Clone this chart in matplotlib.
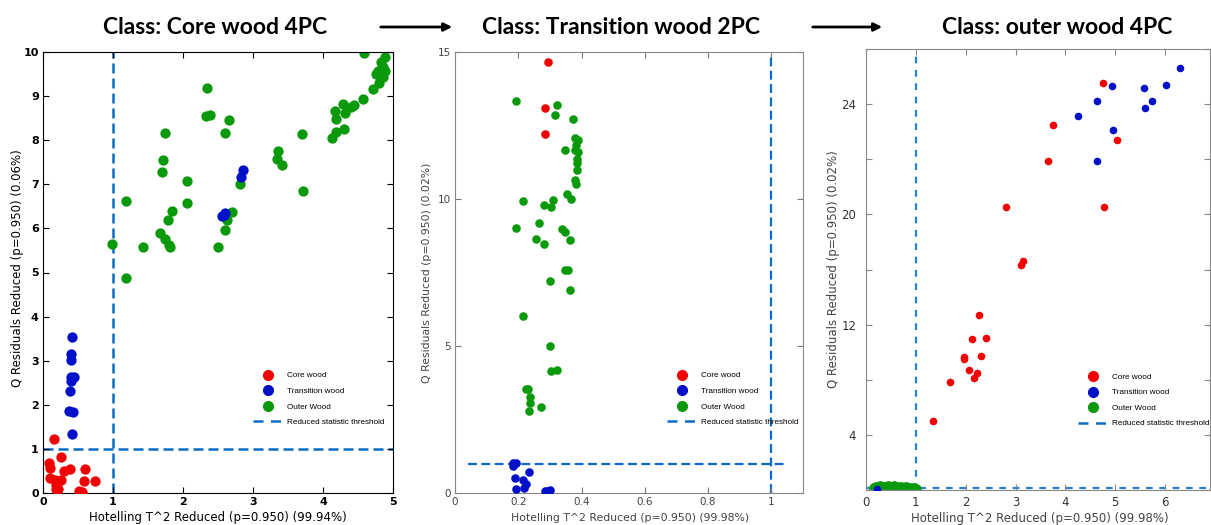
import matplotlib.pyplot as plt
from matplotlib.lines import Line2D
from matplotlib.patches import FancyArrowPatch

# colours
RED = '#f00000'
BLUE = '#0010c8'
GREEN = '#0a990a'
THR = '#0b6cc4'

# ---- panel 1 : Core wood 4PC ----
core1_x = [0.15, 0.25, 0.09, 0.10, 0.30, 0.39, 0.60, 0.10, 0.17, 0.26, 0.19, 0.21, 0.18, 0.59, 0.74, 0.52, 0.55]
core1_y = [1.22, 0.81, 0.68, 0.57, 0.51, 0.54, 0.55, 0.34, 0.30, 0.30, 0.19, 0.09, 0.08, 0.28, 0.28, 0.05, 0.02]
trans1_x = [0.42, 0.40, 0.40, 0.40, 0.44, 0.40, 0.39, 0.37, 0.43, 0.41, 2.85, 2.83, 2.56, 2.60, 2.58]
trans1_y = [3.54, 3.15, 3.02, 2.62, 2.62, 2.53, 2.32, 1.86, 1.83, 1.33, 7.32, 7.17, 6.28, 6.34, 6.30]
outer1_x = [4.58, 4.88, 4.83, 4.86, 4.79, 4.88, 4.76, 4.86, 4.80, 4.72, 4.57, 4.44, 4.29, 4.31, 4.17,
            4.18, 4.19, 4.13, 4.30, 4.40, 3.70, 3.71, 3.36, 3.34, 3.42, 2.34, 2.33, 2.39, 2.66, 2.60,
            2.81, 2.70, 2.63, 2.60, 2.50, 1.74, 1.72, 1.70, 2.05, 2.05, 1.84, 1.79, 1.67, 1.74, 1.81,
            1.80, 1.43, 1.19, 0.98, 1.18]
outer1_y = [9.98, 9.89, 9.77, 9.66, 9.58, 9.58, 9.49, 9.43, 9.30, 9.15, 8.94, 8.79, 8.82, 8.62, 8.66,
            8.47, 8.19, 8.06, 8.26, 8.75, 8.15, 6.85, 7.75, 7.58, 7.43, 9.19, 8.54, 8.58, 8.45, 8.17,
            7.00, 6.38, 6.19, 5.96, 5.57, 8.17, 7.55, 7.27, 7.08, 6.57, 6.39, 6.20, 5.90, 5.75, 5.57,
            5.62, 5.57, 6.63, 5.65, 4.88]

# ---- panel 2 : Transition wood 2PC ----
core2_x = [0.294, 0.283, 0.285]
core2_y = [14.66, 13.09, 12.20]
trans2_x = [0.182, 0.192, 0.184, 0.234, 0.190, 0.215, 0.224, 0.192, 0.217, 0.284, 0.299, 0.291]
trans2_y = [1.02, 1.02, 0.93, 0.71, 0.51, 0.43, 0.32, 0.15, 0.17, 0.08, 0.11, 0.06]
outer2_x = [0.194, 0.321, 0.317, 0.372, 0.380, 0.389, 0.383, 0.380, 0.389, 0.347, 0.386, 0.387,
            0.386, 0.380, 0.383, 0.354, 0.368, 0.310, 0.215, 0.280, 0.304, 0.266, 0.194, 0.339,
            0.349, 0.257, 0.280, 0.362, 0.347, 0.357, 0.299, 0.362, 0.215, 0.299, 0.305, 0.322,
            0.226, 0.231, 0.236, 0.236, 0.234, 0.273]
outer2_y = [13.35, 13.19, 12.85, 12.72, 12.07, 12.01, 11.84, 11.65, 11.61, 11.67, 11.35, 11.22,
            10.97, 10.65, 10.50, 10.16, 9.99, 9.97, 9.94, 9.80, 9.74, 9.19, 9.02, 8.97,
            8.89, 8.63, 8.47, 8.59, 7.58, 7.60, 7.22, 6.90, 6.03, 5.00, 4.16, 4.19,
            3.53, 3.54, 3.25, 3.05, 2.79, 2.91]

# ---- panel 3 : outer wood 4PC ----
core3_x = [4.76, 3.75, 3.65, 5.04, 2.80, 4.77, 3.15, 3.10, 2.27, 2.13, 2.41, 1.97, 1.96, 2.31,
           2.07, 2.23, 2.16, 1.69, 1.34]
core3_y = [29.5, 26.5, 23.85, 25.4, 20.5, 20.5, 16.6, 16.35, 12.73, 10.96, 11.03, 9.62, 9.50, 9.70,
           8.73, 8.49, 8.12, 7.83, 5.02]
trans3_x = [6.29, 4.94, 6.01, 5.57, 4.64, 5.74, 5.59, 4.25, 4.96, 4.64, 0.22]
trans3_y = [30.6, 29.3, 29.4, 29.2, 28.2, 28.2, 27.7, 27.15, 26.1, 23.85, 0.10]
outer3_x = [0.16, 0.20, 0.25, 0.28, 0.31, 0.35, 0.38, 0.42, 0.45, 0.49, 0.52, 0.56, 0.60, 0.63,
            0.67, 0.70, 0.74, 0.78, 0.81, 0.85, 0.89, 0.93, 0.97, 1.00, 0.33, 0.47, 0.58, 0.72]
outer3_y = [0.12, 0.25, 0.08, 0.30, 0.15, 0.05, 0.22, 0.10, 0.28, 0.14, 0.05, 0.26, 0.12, 0.20,
            0.06, 0.24, 0.14, 0.08, 0.22, 0.12, 0.18, 0.10, 0.16, 0.08, 0.02, 0.00, 0.03, 0.00]
y3_ticks = [0, 4, 8, 12, 16, 20, 24, 28, 32]
y3_labels = ['', '4', '', '12', '', '20', '', '24', '']

legend_labels = ['Core wood', 'Transition wood', 'Outer Wood', 'Reduced statistic threshold']

fig = plt.figure(figsize=(12.11, 5.25), dpi=100)
W, H = 1211, 525

ax1 = fig.add_axes([43 / W, 32 / H, 350 / W, 441 / H])
ax2 = fig.add_axes([455 / W, 32 / H, 348 / W, 441 / H])
ax3 = fig.add_axes([866 / W, 35 / H, 344 / W, 441 / H])

DASH = (0, (4, 2))


def legend(ax, x, y):
    handles = [Line2D([], [], ls='', marker='o', ms=7, color=RED),
               Line2D([], [], ls='', marker='o', ms=7, color=BLUE),
               Line2D([], [], ls='', marker='o', ms=7, color=GREEN),
               Line2D([], [], ls=(0, (4, 3)), lw=1.8, color=THR)]
    ax.legend(handles, legend_labels, loc='upper left', bbox_to_anchor=(x, y), frameon=False,
              borderpad=0, borderaxespad=0, handlelength=3.6, handletextpad=0.5, labelspacing=0.95,
              prop={'family': 'Liberation Sans', 'size': 5.9})


# panel 1
ax1.scatter(core1_x, core1_y, s=55, color=RED, zorder=3, lw=0)
ax1.scatter(trans1_x, trans1_y, s=55, color=BLUE, zorder=3, lw=0)
ax1.scatter(outer1_x, outer1_y, s=55, color=GREEN, zorder=2, lw=0)
ax1.axhline(1, color=THR, lw=1.8, ls=DASH, zorder=1)
ax1.axvline(1, color=THR, lw=1.8, ls=DASH, zorder=1)
ax1.set_xlim(0, 5)
ax1.set_ylim(0, 10)
ax1.set_xticks(range(6))
ax1.set_yticks(range(11))
ax1.tick_params(direction='in', top=True, right=True, length=4, pad=3, labelsize=8)
for lab in ax1.get_xticklabels() + ax1.get_yticklabels():
    lab.set_fontweight('bold')
ax1.set_xlabel('Hotelling T^2 Reduced (p=0.950) (99.94%)', fontsize=8.5)
ax1.set_ylabel('Q Residuals Reduced (p=0.950) (0.06%)', fontsize=8.5)
ax1.xaxis.set_label_coords(0.5, -0.04)
ax1.yaxis.set_label_coords(-0.055, 0.51)
legend(ax1, 0.60, 0.275)

# panel 2
ax2.scatter(core2_x, core2_y, s=38, color=RED, zorder=3, lw=0)
ax2.scatter(trans2_x, trans2_y, s=38, color=BLUE, zorder=3, lw=0)
ax2.scatter(outer2_x, outer2_y, s=38, color=GREEN, zorder=2, lw=0)
ax2.plot([0.04, 1.05], [1, 1], color=THR, lw=1.6, ls=DASH, zorder=1)
ax2.axvline(1, color=THR, lw=1.6, ls=DASH, zorder=1)
ax2.set_xlim(0, 1.1)
ax2.set_ylim(0, 15)
ax2.set_xticks([0, 0.2, 0.4, 0.6, 0.8, 1])
ax2.set_xticklabels(['0', '0.2', '0.4', '0.6', '0.8', '1'])
ax2.set_yticks([0, 5, 10, 15])
ax2.tick_params(direction='in', top=True, right=True, length=4, pad=3, labelsize=7.5,
                labelcolor='#444444', color='#777777')
ax2.set_xlabel('Hotelling T^2 Reduced (p=0.950) (99.98%)', fontsize=7.8, color='#444444')
ax2.set_ylabel('Q Residuals Reduced (p=0.950) (0.02%)', fontsize=7.8, color='#444444')
ax2.xaxis.set_label_coords(0.503, -0.045)
ax2.yaxis.set_label_coords(-0.065, 0.5)
legend(ax2, 0.61, 0.275)

# panel 3
ax3.scatter(core3_x, core3_y, s=30, color=RED, zorder=3, lw=0)
ax3.scatter(trans3_x, trans3_y, s=30, color=BLUE, zorder=3, lw=0)
ax3.scatter(outer3_x, outer3_y, s=60, color=GREEN, zorder=2, lw=0)
ax3.axhline(0.12, color='#2a80d0', lw=1.6, ls=(0, (3, 3)), zorder=1)
ax3.axvline(1, color='#2a80d0', lw=1.6, ls=(0, (3, 3)), zorder=1)
ax3.set_xlim(0, 6.9)
ax3.set_ylim(0, 32)
ax3.set_xticks(range(7))
ax3.set_yticks(y3_ticks)
ax3.set_yticklabels(y3_labels)
ax3.tick_params(direction='in', top=True, right=True, length=4, labelsize=8.5,
                labelcolor='#333333', color='#888888')
ax3.tick_params(axis='y', pad=7)
ax3.tick_params(axis='x', pad=4)
ax3.set_xlabel('Hotelling T^2 Reduced (p=0.950) (99.98%)', fontsize=8.5, color='#444444')
ax3.set_ylabel('Q Residuals Reduced (p=0.950) (0.02%)', fontsize=8.5, color='#444444')
ax3.xaxis.set_label_coords(0.506, -0.05)
ax3.yaxis.set_label_coords(-0.075, 0.5)
legend(ax3, 0.616, 0.265)

for ax in (ax2, ax3):
    for sp in ax.spines.values():
        sp.set_color('#888888')

# titles and arrows
ty = 1 - 27 / H
fig.text(215 / W, ty, 'Class: Core wood 4PC', ha='center', va='center', fontsize=16.5,
         fontweight='bold', family='Lato')
fig.text(621 / W, ty, 'Class: Transition wood 2PC', ha='center', va='center', fontsize=16.5,
         fontweight='bold', family='Lato')
fig.text(1057 / W, ty, 'Class: outer wood 4PC', ha='center', va='center', fontsize=16.5,
         fontweight='bold', family='Lato')
for x0, x1 in [(378, 455), (810, 885)]:
    fig.add_artist(FancyArrowPatch((x0 / W, ty), (x1 / W, ty), transform=fig.transFigure,
                                   arrowstyle='-|>', mutation_scale=12, lw=2, color='black'))

fig.savefig('out.png', dpi=100)
